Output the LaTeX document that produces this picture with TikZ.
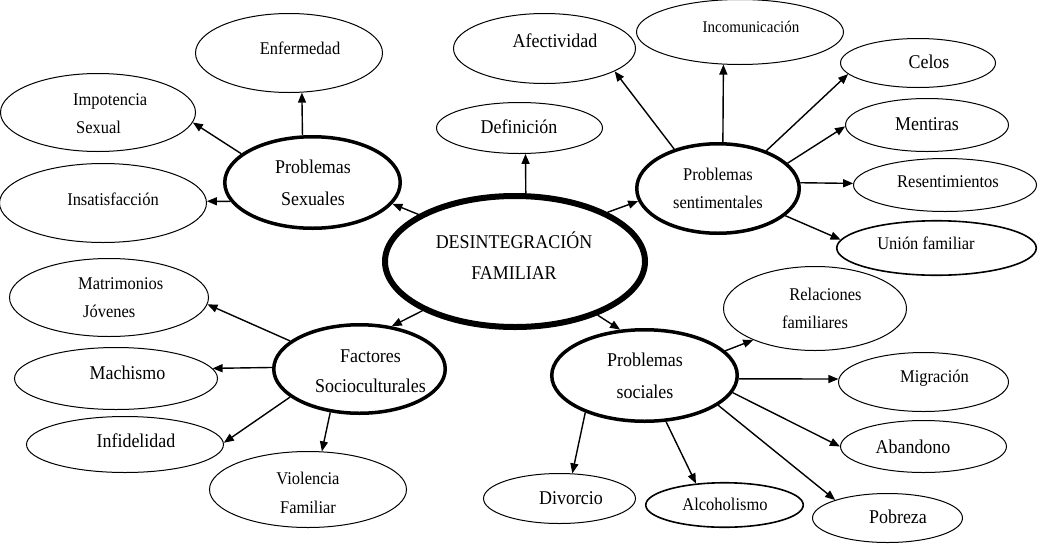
\documentclass[tikz,border=0pt]{standalone}
\usepackage{fontspec}
\setmainfont[FakeStretch=0.92]{Liberation Serif}
\usetikzlibrary{shapes.geometric,arrows.meta}

\tikzset{
  bubble/.style={ellipse, draw, line width=1pt, inner sep=0pt},
  boldbubble/.style={bubble, line width=1.6pt},
  branch/.style={bubble, line width=3.5pt},
  hub/.style={bubble, line width=6pt},
  link/.style={line width=1.4pt, -{Triangle[length=10pt,width=8pt]}},
  big/.style={inner sep=0pt, font=\fontsize{19.5}{31}\selectfont},
  small/.style={inner sep=0pt, font=\fontsize{17.9}{28}\selectfont},
}

\begin{document}
\begin{tikzpicture}[x=1pt,y=-1pt]
\fill[white] (0,0) rectangle (1049,544);
\useasboundingbox (0,0) rectangle (1049,544);

% central idea
\node[hub, minimum width=260pt, minimum height=131pt] (cen) at (515,261.5) {};
\node[big, align=center] (cen-t) at (514,255.5) {DESINTEGRACIÓN\\FAMILIAR};

% second level
\node[branch, minimum width=175.5pt, minimum height=91.5pt] (ps) at (312.5,182.5) {};
\node[big, align=center, font=\fontsize{19.5}{32}\selectfont] (ps-t) at (313,183) {Problemas\\Sexuales};

\node[branch, minimum width=162.5pt, minimum height=89.5pt] (pse) at (718,188.5) {};
\node[small, align=center] (pse-t) at (718,188) {Problemas\\sentimentales};

\node[branch, minimum width=171.5pt, minimum height=88.5pt] (fac) at (359.5,369) {};
\node[big, align=center, font=\fontsize{19.5}{30}\selectfont] (fac-t) at (370.5,371) {Factores\\Socioculturales};

\node[branch, minimum width=185.5pt, minimum height=91.5pt] (pso) at (644.5,375.5) {};
\node[big, align=center, font=\fontsize{19.5}{32}\selectfont] (pso-t) at (645,376) {Problemas\\sociales};

\node[bubble, minimum width=166pt, minimum height=51pt] (def) at (519.5,128) {};
\node[big] (def-t) at (519,127) {Definición};

% problemas sexuales
\node[bubble, minimum width=187pt, minimum height=79pt] (enf) at (289,53) {};
\node[small] (enf-t) at (300,48) {Enfermedad};
\node[bubble, minimum width=195pt, minimum height=78pt] (imp) at (98,112.5) {};
\node[small, align=left, anchor=west] (imp-t) at (73,114) {Impotencia\\\hspace*{3pt}Sexual};
\node[bubble, minimum width=207pt, minimum height=79pt] (ins) at (103,203) {};
\node[small] (ins-t) at (113,199) {Insatisfacción};

% problemas sentimentales
\node[bubble, minimum width=182pt, minimum height=70pt] (afe) at (544.5,48.5) {};
\node[big] (afe-t) at (555,41) {Afectividad};
\node[bubble, minimum width=207pt, minimum height=65pt] (inc) at (740,32) {};
\node[inner sep=0pt, font=\fontsize{16.3}{20}\selectfont] (inc-t) at (751,27) {Incomunicación};
\node[bubble, minimum width=155pt, minimum height=49pt] (cel) at (918,63) {};
\node[big] (cel-t) at (929,62) {Celos};
\node[bubble, minimum width=163pt, minimum height=53pt] (men) at (927,125) {};
\node[big] (men-t) at (927,124) {Mentiras};
\node[bubble, minimum width=183pt, minimum height=53pt] (res) at (945,185) {};
\node[small] (res-t) at (948,182) {Resentimientos};
\node[boldbubble, minimum width=199.5pt, minimum height=54.5pt] (uni) at (936.5,248) {};
\node[small] (uni-t) at (926,243) {Unión familiar};

% factores socioculturales
\node[bubble, minimum width=199pt, minimum height=78pt] (mat) at (109,297.5) {};
\node[small, align=left, anchor=west] (mat-t) at (78,298) {Matrimonios\\\hspace*{5pt}Jóvenes};
\node[bubble, minimum width=203pt, minimum height=62pt] (mach) at (116,378.5) {};
\node[big] (mach-t) at (127.5,373) {Machismo};
\node[bubble, minimum width=197pt, minimum height=56pt] (inf) at (125,444.5) {};
\node[big] (inf-t) at (136,441) {Infidelidad};
\node[bubble, minimum width=197pt, minimum height=76pt] (vio) at (308,489.5) {};
\node[small, align=center, font=\fontsize{17.9}{29}\selectfont] (vio-t) at (308,492.5) {Violencia\\Familiar};

% problemas sociales
\node[bubble, minimum width=183pt, minimum height=84pt] (rel) at (815,308.5) {};
\node[small, align=center] (rel-t) at (815,308) {\hspace*{21pt}Relaciones\\familiares};
\node[bubble, minimum width=170pt, minimum height=59pt] (mig) at (923.5,382) {};
\node[small] (mig-t) at (934.5,378) {Migración};
\node[bubble, minimum width=166pt, minimum height=52pt] (aba) at (923.5,446.5) {};
\node[big] (aba-t) at (913,447) {Abandono};
\node[bubble, minimum width=150pt, minimum height=49pt] (pob) at (887.5,518) {};
\node[big] (pob-t) at (898,517) {Pobreza};
\node[boldbubble, minimum width=157.5pt, minimum height=44.5pt] (alc) at (724.5,505) {};
\node[small] (alc-t) at (725,504) {Alcoholismo};
\node[bubble, minimum width=152pt, minimum height=50pt] (div) at (559.5,498.5) {};
\node[big] (div-t) at (571,498) {Divorcio};

% connectors from the centre
\draw[link] (cen.154) -- (ps.-15);
\draw[link] (cen.81) -- (def.-77);
\draw[link] (cen.28) -- (pse.-171);
\draw[link] (cen.-152) -- (fac.53);
\draw[link] (cen.-33) -- (pso.118);

% problemas sexuales
\draw[link] (ps.102) -- (enf.-72);
\draw[link] (ps.158) -- (imp.-6);
\draw[link] (ps.-167) -- (ins.1);

% problemas sentimentales
\draw[link] (pse.138) -- (afe.-18);
\draw[link] (pse.84) -- (inc.-117);
\draw[link] (pse.38) -- (cel.189);
\draw[link] (pse.20) -- (men.181);
\draw[link] (pse.4) -- (res.179);
\draw[link] (pse.-22) -- (uni.175);

% factores socioculturales
\draw[link] (fac.158) -- (mat.-4);
\draw[link] (fac.179) -- (mach.6);
\draw[link] (fac.-158) -- (inf.1);
\draw[link] (fac.-124) -- (vio.70);

% problemas sociales
\draw[link] (pso.17) -- (rel.-153);
\draw[link] (pso.-2) -- (mig.178);
\draw[link] (pso.-11) -- (aba.180);
\draw[link] (pso.-22) -- (pob.161);
\draw[link] (pso.-65) -- (alc.143);
\draw[link] (pso.-148) -- (div.63);
\end{tikzpicture}
\end{document}
